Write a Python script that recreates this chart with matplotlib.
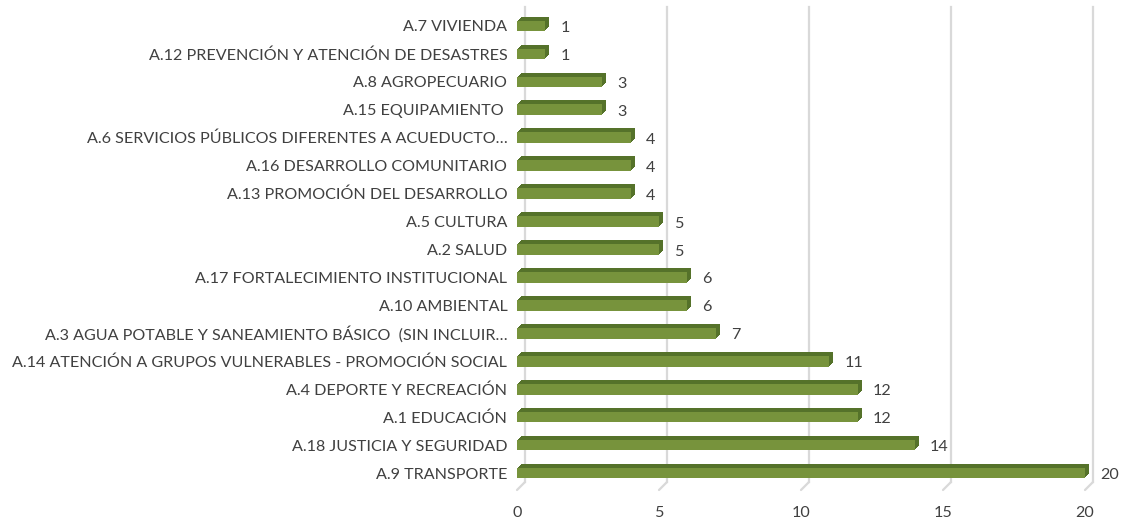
import matplotlib
matplotlib.use("Agg")
import matplotlib.pyplot as plt
from matplotlib.transforms import ScaledTranslation, blended_transform_factory
import numpy as np

plt.rcParams['font.family'] = ['Lato', 'DejaVu Sans']

categories = [
    "A.7 VIVIENDA",
    "A.12 PREVENCIÓN Y ATENCIÓN DE DESASTRES",
    "A.8 AGROPECUARIO",
    "A.15 EQUIPAMIENTO ",
    "A.6 SERVICIOS PÚBLICOS DIFERENTES A ACUEDUCTO…",
    "A.16 DESARROLLO COMUNITARIO",
    "A.13 PROMOCIÓN DEL DESARROLLO",
    "A.5 CULTURA",
    "A.2 SALUD",
    "A.17 FORTALECIMIENTO INSTITUCIONAL",
    "A.10 AMBIENTAL",
    "A.3 AGUA POTABLE Y SANEAMIENTO BÁSICO  (SIN INCLUIR…",
    "A.14 ATENCIÓN A GRUPOS VULNERABLES - PROMOCIÓN SOCIAL",
    "A.4 DEPORTE Y RECREACIÓN",
    "A.1 EDUCACIÓN",
    "A.18 JUSTICIA Y SEGURIDAD",
    "A.9 TRANSPORTE",
]
values = [1, 1, 3, 3, 4, 4, 4, 5, 5, 6, 6, 7, 11, 12, 12, 14, 20]
xticks = [0, 5, 10, 15, 20]

W, H = 1124, 523
fig = plt.figure(figsize=(W / 100, H / 100), dpi=100)
left_px, right_px = 517, 1085
top_px, bot_px = 12, 487
ax = fig.add_axes([left_px / W, 1 - bot_px / H, (right_px - left_px) / W, (bot_px - top_px) / H])

n = len(categories)
ypos = np.arange(n)[::-1]
bar_h = 0.38
front = "#77933C"
dark = "#55722A"
text_c = "#404040"
grid_c = "#D9D9D9"
fs = 11.6

def px(dx, dy):
    return ScaledTranslation(dx / 100, dy / 100, fig.dpi_scale_trans)

# gridlines on back wall
trans_b = blended_transform_factory(ax.transData, ax.transAxes)
for xv in xticks:
    ax.plot([xv, xv], [1, 0], transform=trans_b + px(8, 5), color=grid_c, lw=1.6, zorder=0, clip_on=False)
    ax.annotate("", xy=(xv, 0), xycoords=trans_b + px(0, -3),
                xytext=(xv, 0), textcoords=trans_b + px(8, 5),
                arrowprops=dict(arrowstyle="-", color=grid_c, lw=1.6, shrinkA=0, shrinkB=0),
                annotation_clip=False, zorder=0)

# 3D extrusion
for k in range(1, 5):
    ax.barh(ypos, values, height=bar_h, color=dark, transform=ax.transData + px(k, k),
            zorder=2, clip_on=False)
ax.barh(ypos, values, height=bar_h, color=front, zorder=3, clip_on=False)

for y, v in zip(ypos, values):
    ax.text(v, y, str(v), transform=ax.transData + px(15, -2), ha="left", va="center",
            fontsize=fs, color=text_c, zorder=4)

ax.set_xlim(0, 20)
ax.set_ylim(-0.5, n - 0.5)
ax.set_xticks(xticks)
ax.set_yticks(ypos)
ax.set_yticklabels(categories)
for s in ax.spines.values():
    s.set_visible(False)
ax.tick_params(axis="both", length=0, labelsize=fs, labelcolor=text_c)
ax.tick_params(axis="x", pad=14)
ax.tick_params(axis="y", pad=7)
ax.set_facecolor("none")

fig.savefig("out.png", dpi=100)
